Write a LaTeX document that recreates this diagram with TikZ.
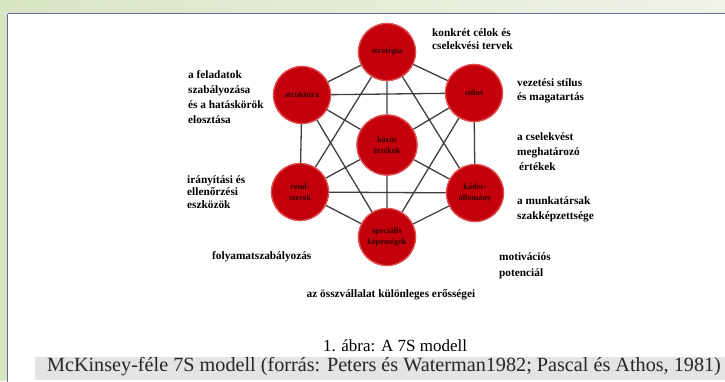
\documentclass[tikz,border=0pt]{standalone}
\usepackage{fontspec}
\setmainfont{Liberation Serif}
\definecolor{bgL}{HTML}{D8E5C4}
\definecolor{bgR}{HTML}{F0F3E8}
\definecolor{frameC}{HTML}{6A6AA2}
\definecolor{sRed}{HTML}{C4000C}
\definecolor{sEdge}{HTML}{E05050}
\definecolor{lineC}{HTML}{404040}
\definecolor{hiC}{HTML}{E4E4E4}
\definecolor{sText}{HTML}{300000}
\begin{document}
\begin{tikzpicture}[x=1pt,y=-1pt,
  snode/.style={circle, fill=sRed, draw=sEdge, line width=1.2pt, minimum size=57pt,
    inner sep=0pt, font=\fontsize{8.3}{10.5}\selectfont\bfseries, text=sText, align=center},
  lbl/.style={font=\fontsize{11.3}{14}\selectfont\bfseries, align=left, anchor=west, inner sep=0pt},
  conn/.style={draw=lineC, line width=1.3pt}]
\useasboundingbox (0,0) rectangle (725,381);
% background
\fill[left color=bgL, right color=bgR] (0,0) rectangle (725,13);
\fill[bgL] (0,0) rectangle (7,381);
\fill[white] (7,13) rectangle (740,395);
\draw[frameC, line width=1.5pt] (7.5,13.5) -- (740,13.5);
\draw[frameC, line width=1.5pt] (7.5,13.5) -- (7.5,395);
% circles
\node[snode] (str) at (387,52) {stratégia};
\node[snode] (stk) at (302,95) {struktúra};
\node[snode] (sti) at (474,93) {stílus};
\node[snode, minimum size=60pt] (koz) at (387,145) {közös\\értékek};
\node[snode] (ren) at (300,192) {rend-\\szerek};
\node[snode] (kad) at (475,193) {káder-\\állomány};
\node[snode] (kep) at (387,237) {speciális\\képességek};
% connectors
\path[conn] (str) -- (stk) (str) -- (sti) (sti) -- (kad) (kad) -- (kep)
  (kep) -- (ren) (ren) -- (stk)
  (stk) -- (sti) (ren) -- (kad) (str) -- (ren) (str) -- (kad) (kep) -- (stk) (kep) -- (sti)
  (koz) -- (str) (koz) -- (stk) (koz) -- (sti) (koz) -- (ren) (koz) -- (kad) (koz) -- (kep);
% redraw circles on top
\node[snode] at (str) {stratégia};
\node[snode] at (stk) {struktúra};
\node[snode] at (sti) {stílus};
\node[snode, minimum size=60pt] at (koz) {közös\\értékek};
\node[snode] at (ren) {rend-\\szerek};
\node[snode] at (kad) {káder-\\állomány};
\node[snode] at (kep) {speciális\\képességek};
% labels
\node[lbl, font=\fontsize{11.3}{12.5}\selectfont\bfseries] (l1) at (432,39) {konkrét célok és\\cselekvési tervek};
\node[lbl] (l2) at (517,91) {vezetési stílus\\és magatartás};
\node[lbl, font=\fontsize{11.3}{15}\selectfont\bfseries] (l3) at (517,152) {a cselekvést\\meghatározó\\\hspace{2pt}értékek};
\node[lbl, font=\fontsize{11.3}{15}\selectfont\bfseries] (l4) at (517,209.5) {a munkatársak\\szakképzettsége};
\node[lbl, font=\fontsize{11.3}{15.5}\selectfont\bfseries] (l5) at (499,266) {motivációs\\potenciál};
\node[lbl, anchor=center] (l6) at (391,295) {az összvállalat különleges erősségei};
\node[lbl] (l7) at (212,257) {folyamatszabályozás};
\node[lbl, font=\fontsize{11.3}{12.5}\selectfont\bfseries] (l8) at (187,192) {irányítási és\\ellenőrzési\\eszközök};
\node[lbl, font=\fontsize{11.3}{15}\selectfont\bfseries] (l9) at (188,97) {a feladatok\\szabályozása\\és a hatáskörök\\elosztása};
% captions
\node[font=\fontsize{17}{19}\selectfont, inner sep=0pt] (c1) at (395,346) {1. ábra: A 7S modell};
\fill[hiC] (35,357) rectangle (725,380);
\node[font=\fontsize{20.2}{22}\selectfont, inner sep=0pt, text=black!85] (c2) at (384,367) {McKinsey-féle 7S modell (forrás: Peters és Waterman1982; Pascal és Athos, 1981)};
\end{tikzpicture}
\end{document}
